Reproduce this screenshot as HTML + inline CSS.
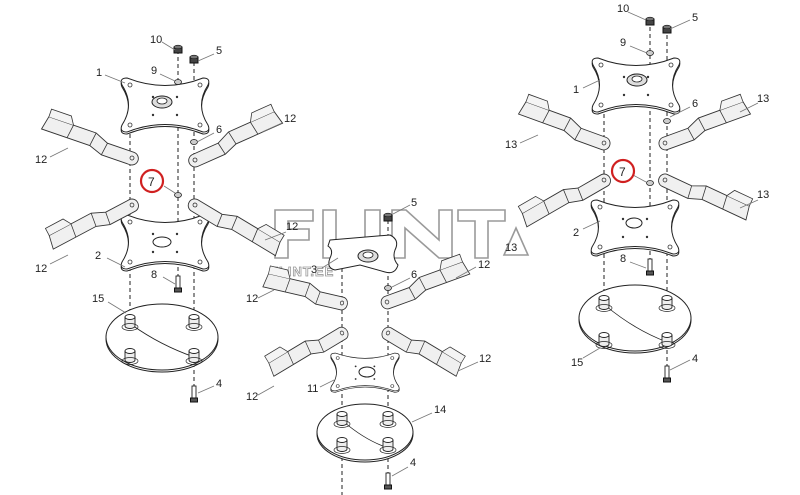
<!DOCTYPE html>
<html><head><meta charset="utf-8"><style>
html,body{margin:0;padding:0;background:#fff;}
svg{display:block;}
text{font-family:"Liberation Sans",Arial,sans-serif;font-size:11px;fill:#222;}
</style></head><body>
<svg width="800" height="495" viewBox="0 0 800 495" xmlns="http://www.w3.org/2000/svg">
<defs>
<g id="blade">
<path d="M0,-6 L28,-6 L42,-12 L92,-12 L95,2 L44,2 L30,7 L0,7 A6.5,6.5 0 0 1 0,-6 Z" fill="#f0f0f0" stroke="#333" stroke-width="0.9"/>
<path d="M28,-6 L30,7 M42,-12 L44,2 M66,-12 L68,2" stroke="#333" stroke-width="0.8" fill="none"/>
<path d="M66,-12 L71,-20 L92,-20 L92,-12" fill="#f4f4f4" stroke="#333" stroke-width="0.8"/>
<circle cx="0" cy="0" r="2" fill="none" stroke="#333" stroke-width="0.8"/>
</g>
<g id="plate">
<path d="M-38,-25 Q0,-10 38,-25 Q46,-25 43,-18 Q30,2 43,22 Q46,29 38,29 Q0,14 -38,29 Q-46,29 -43,22 Q-30,2 -43,-18 Q-46,-25 -38,-25 Z" fill="#fff" stroke="#222" stroke-width="1"/>
<path d="M-38,-27 Q0,-12 38,-27 Q46,-27 43,-20 Q30,0 43,20 Q46,27 38,27 Q0,12 -38,27 Q-46,27 -43,20 Q-30,0 -43,-20 Q-46,-27 -38,-27 Z" fill="#fff" stroke="#222" stroke-width="1"/>
<circle cx="-35" cy="-20" r="2" fill="none" stroke="#333" stroke-width="0.8"/>
<circle cx="35" cy="-20" r="2" fill="none" stroke="#333" stroke-width="0.8"/>
<circle cx="-35" cy="20" r="2" fill="none" stroke="#333" stroke-width="0.8"/>
<circle cx="35" cy="20" r="2" fill="none" stroke="#333" stroke-width="0.8"/>
<circle cx="-12" cy="-8" r="1.2" fill="#333"/><circle cx="12" cy="-8" r="1.2" fill="#333"/>
<circle cx="-12" cy="10" r="1.2" fill="#333"/><circle cx="12" cy="10" r="1.2" fill="#333"/>
</g>
<g id="ring"><ellipse cx="0" cy="0" rx="10" ry="6" fill="#ddd" stroke="#222"/><ellipse cx="0" cy="-1" rx="5" ry="3" fill="#fff" stroke="#222" stroke-width="0.8"/></g>
<g id="stud"><path d="M-5,-6 L-5,3 A5,2.5 0 0 0 5,3 L5,-6" fill="#eee" stroke="#222" stroke-width="0.9"/><ellipse cx="0" cy="-6" rx="5" ry="2.5" fill="#fff" stroke="#222" stroke-width="0.9"/><ellipse cx="0" cy="4" rx="8" ry="3.5" fill="none" stroke="#222" stroke-width="0.7"/></g>
<g id="nut"><path d="M-4,-3 L4,-3 L4,3 L-4,3 Z" fill="#444" stroke="#111"/><ellipse cx="0" cy="-3" rx="4" ry="1.8" fill="#777" stroke="#111" stroke-width="0.6"/></g>
<g id="bolt"><rect x="-2" y="-9" width="4" height="12" fill="#fff" stroke="#222" stroke-width="0.9"/><path d="M-3.5,3 L3.5,3 L3.5,7 L-3.5,7 Z" fill="#555" stroke="#111"/></g>
<g id="washer"><ellipse cx="0" cy="0" rx="3.5" ry="2.5" fill="#ccc" stroke="#222" stroke-width="0.8"/></g>
</defs>

<!-- watermark -->
<g fill="none" stroke="#9a9a9a" stroke-width="1.6">
<path d="M275,210 L313,210 L313,221 L288,221 L288,229 L309,229 L309,240 L288,240 L288,258 L275,258 Z"/>
<path d="M323,210 L336,210 L336,247 L355,247 L355,258 L323,258 Z"/>
<path d="M365,210 L380,210 L380,258 L365,258 Z"/>
<path d="M392,210 L406,210 L439,240 L439,210 L452,210 L452,258 L439,258 L405,228 L405,258 L392,258 Z"/>
<path d="M458,210 L505,210 L505,221 L488,221 L488,258 L475,258 L475,221 L458,221 Z"/>
<path d="M516,228 L528,255 L504,255 Z"/>
</g>
<text x="270" y="276" style="font-size:13px;font-weight:bold;fill:none;stroke:#999;stroke-width:0.8;letter-spacing:1px">FLINT.EE</text>

<!-- dashed lines -->
<g stroke="#222" stroke-width="1" stroke-dasharray="4,3" fill="none">
<line x1="130" y1="85" x2="130" y2="360"/><line x1="178" y1="50" x2="178" y2="285"/><line x1="194" y1="62" x2="194" y2="395"/>
<line x1="342" y1="240" x2="342" y2="495"/><line x1="388" y1="213" x2="388" y2="480"/>
<line x1="604" y1="65" x2="604" y2="345"/><line x1="650" y1="20" x2="650" y2="268"/><line x1="667" y1="28" x2="667" y2="375"/>
</g>

<!-- LEFT assembly -->
<use href="#plate" x="165" y="105"/>
<use href="#ring" x="162" y="102"/>
<use href="#plate" x="165" y="242"/>
<ellipse cx="162" cy="242" rx="9" ry="5" fill="#fff" stroke="#222"/>
<use href="#blade" transform="translate(132,158) rotate(199) scale(1,-1)"/>
<use href="#blade" transform="translate(195,160) rotate(-24)"/>
<use href="#blade" transform="translate(132,205) rotate(152) scale(0.95,-1)"/>
<use href="#blade" transform="translate(195,205) rotate(31)"/>
<ellipse cx="162" cy="339" rx="56" ry="33" fill="#fff" stroke="#222"/>
<ellipse cx="162" cy="337" rx="56" ry="33" fill="#fff" stroke="#222"/>
<path d="M132,325 Q160,345 194,357" fill="none" stroke="#222" stroke-width="0.8"/>
<use href="#stud" x="130" y="323"/><use href="#stud" x="194" y="323"/><use href="#stud" x="130" y="357"/><use href="#stud" x="194" y="357"/>
<use href="#nut" x="178" y="50"/><use href="#nut" x="194" y="60"/><use href="#washer" x="178" y="82"/><use href="#washer" x="194" y="142"/><use href="#washer" x="178" y="195"/>
<use href="#bolt" x="178" y="285"/><use href="#bolt" x="194" y="395"/>

<!-- MIDDLE assembly -->
<path d="M330,240 L390,235 Q400,240 395,250 Q392,258 398,265 Q395,275 385,272 L360,265 L335,270 Q326,268 330,258 Q334,250 328,246 Z" fill="#fff" stroke="#222"/>
<use href="#ring" x="368" y="256"/>
<use href="#blade" transform="translate(342,303) rotate(193) scale(0.85,-1)"/>
<use href="#blade" transform="translate(387,302) rotate(-20) scale(0.92,1)"/>
<use href="#blade" transform="translate(342,333) rotate(149) scale(0.85,-1)"/>
<use href="#blade" transform="translate(388,333) rotate(31) scale(0.85,1)"/>
<use href="#plate" transform="translate(365,372) scale(0.78,0.7)"/>
<ellipse cx="367" cy="372" rx="8" ry="5" fill="#fff" stroke="#222"/>
<ellipse cx="365" cy="434" rx="48" ry="28" fill="#fff" stroke="#222"/>
<ellipse cx="365" cy="432" rx="48" ry="28" fill="#fff" stroke="#222"/>
<path d="M344,422 Q365,440 388,448" fill="none" stroke="#222" stroke-width="0.8"/>
<use href="#stud" x="342" y="420"/><use href="#stud" x="388" y="420"/><use href="#stud" x="342" y="446"/><use href="#stud" x="388" y="446"/>
<use href="#nut" x="388" y="218"/><use href="#washer" x="388" y="288"/>
<use href="#bolt" x="388" y="482"/>

<!-- RIGHT assembly -->
<use href="#plate" x="636" y="85"/>
<use href="#ring" x="637" y="80"/>
<use href="#plate" x="635" y="227"/>
<ellipse cx="634" cy="223" rx="8" ry="5" fill="#fff" stroke="#222"/>
<use href="#blade" transform="translate(604,143) rotate(200) scale(0.95,-1)"/>
<use href="#blade" transform="translate(665,143) rotate(-20) scale(0.95,1)"/>
<use href="#blade" transform="translate(604,180) rotate(150) scale(0.95,-1)"/>
<use href="#blade" transform="translate(665,180) rotate(25) scale(0.95,1)"/>
<ellipse cx="635" cy="320" rx="56" ry="33" fill="#fff" stroke="#222"/>
<ellipse cx="635" cy="318" rx="56" ry="33" fill="#fff" stroke="#222"/>
<path d="M606,306 Q635,330 667,342" fill="none" stroke="#222" stroke-width="0.8"/>
<use href="#stud" x="604" y="304"/><use href="#stud" x="667" y="304"/><use href="#stud" x="604" y="341"/><use href="#stud" x="667" y="341"/>
<use href="#nut" x="650" y="22"/><use href="#nut" x="667" y="30"/><use href="#washer" x="650" y="53"/><use href="#washer" x="667" y="121"/><use href="#washer" x="650" y="183"/>
<use href="#bolt" x="650" y="268"/><use href="#bolt" x="667" y="375"/>

<!-- leader lines -->
<g stroke="#777" stroke-width="0.8">
<line x1="162" y1="42" x2="175" y2="50"/><line x1="214" y1="54" x2="198" y2="61"/><line x1="105" y1="75" x2="125" y2="83"/><line x1="160" y1="74" x2="175" y2="81"/>
<line x1="214" y1="133" x2="197" y2="142"/><line x1="282" y1="123" x2="262" y2="132"/><line x1="50" y1="157" x2="68" y2="148"/><line x1="164" y1="186" x2="175" y2="193"/>
<line x1="286" y1="232" x2="265" y2="240"/><line x1="50" y1="264" x2="68" y2="255"/><line x1="107" y1="258" x2="125" y2="267"/><line x1="163" y1="277" x2="175" y2="284"/>
<line x1="108" y1="302" x2="126" y2="313"/><line x1="214" y1="386" x2="198" y2="393"/>
<line x1="410" y1="205" x2="393" y2="214"/><line x1="322" y1="268" x2="338" y2="258"/><line x1="476" y1="267" x2="456" y2="278"/><line x1="410" y1="278" x2="392" y2="287"/>
<line x1="258" y1="298" x2="274" y2="290"/><line x1="478" y1="362" x2="458" y2="371"/><line x1="320" y1="387" x2="334" y2="380"/><line x1="258" y1="395" x2="274" y2="386"/>
<line x1="432" y1="413" x2="412" y2="422"/><line x1="408" y1="467" x2="392" y2="476"/>
<line x1="628" y1="12" x2="646" y2="20"/><line x1="690" y1="20" x2="670" y2="29"/><line x1="630" y1="46" x2="647" y2="53"/><line x1="583" y1="88" x2="600" y2="80"/>
<line x1="690" y1="107" x2="670" y2="117"/><line x1="758" y1="103" x2="740" y2="112"/><line x1="520" y1="143" x2="538" y2="135"/><line x1="633" y1="175" x2="646" y2="182"/>
<line x1="758" y1="200" x2="740" y2="208"/><line x1="583" y1="229" x2="600" y2="221"/><line x1="630" y1="262" x2="646" y2="268"/><line x1="583" y1="358" x2="600" y2="348"/><line x1="690" y1="360" x2="670" y2="370"/>
</g>

<!-- labels -->
<text x="150" y="43">10</text><text x="216" y="54">5</text><text x="96" y="76">1</text><text x="151" y="74">9</text>
<text x="216" y="133">6</text><text x="284" y="122">12</text><text x="35" y="163">12</text>
<text x="286" y="230">12</text><text x="35" y="272">12</text><text x="95" y="259">2</text><text x="151" y="278">8</text>
<text x="92" y="302">15</text><text x="216" y="387">4</text>
<text x="411" y="206">5</text><text x="311" y="273">3</text><text x="478" y="268">12</text><text x="411" y="278">6</text>
<text x="246" y="302">12</text><text x="479" y="362">12</text><text x="307" y="392">11</text><text x="246" y="400">12</text>
<text x="434" y="413">14</text><text x="410" y="466">4</text>
<text x="617" y="12">10</text><text x="692" y="21">5</text><text x="620" y="46">9</text><text x="573" y="93">1</text>
<text x="692" y="107">6</text><text x="757" y="102">13</text><text x="505" y="148">13</text>
<text x="757" y="198">13</text><text x="573" y="236">2</text><text x="620" y="262">8</text><text x="571" y="366">15</text><text x="692" y="362">4</text>
<text x="505" y="251">13</text>

<!-- red circles -->
<circle cx="152" cy="181" r="11" fill="none" stroke="#d02020" stroke-width="2.2"/>
<text x="148" y="186" style="font-size:12px">7</text>
<circle cx="623" cy="171" r="11" fill="none" stroke="#d02020" stroke-width="2.2"/>
<text x="619" y="176" style="font-size:12px">7</text>
</svg>
</body></html>
